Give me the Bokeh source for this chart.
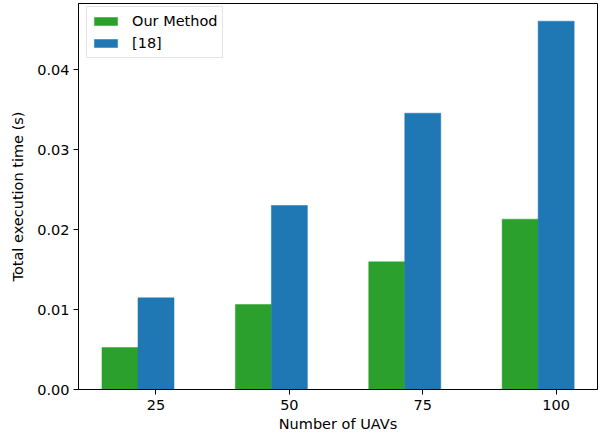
from bokeh.plotting import figure
from bokeh.models import FixedTicker, Range1d, Legend, LegendItem, PrintfTickFormatter
from bokeh.embed import file_html
from bokeh.resources import INLINE

categories = ["25", "50", "75", "100"]
our_method = [0.00525, 0.010625, 0.01596, 0.02129]
ref18 = [0.01146, 0.0230, 0.03454, 0.04604]
y_ticks = [0.0, 0.01, 0.02, 0.03, 0.04]

bar_w = 0.27
idx = list(range(len(categories)))
x_green = [i - bar_w for i in idx]

FONT = "DejaVu Sans"
FS = "14.5px"

p = figure(width=601, height=436, output_backend="svg", toolbar_location=None,
           x_range=Range1d(-0.581, 3.310), y_range=Range1d(0, 0.04825),
           min_border_left=78, min_border_right=4, min_border_top=3, min_border_bottom=47)

g = p.vbar(x=x_green, top=our_method, width=bar_w, bottom=0, fill_color="#2ca02c", line_color="#2ca02c", line_width=0.5)
b = p.vbar(x=idx, top=ref18, width=bar_w, bottom=0, fill_color="#1f77b4", line_color="#1f77b4", line_width=0.5)

p.xgrid.visible = False
p.ygrid.visible = False
p.outline_line_color = "black"
p.outline_line_width = 1
p.background_fill_color = "white"
p.border_fill_color = "white"

p.xaxis.ticker = FixedTicker(ticks=idx)
p.xaxis.major_label_overrides = {i: c for i, c in zip(idx, categories)}
p.yaxis.ticker = FixedTicker(ticks=y_ticks)
p.yaxis.formatter = PrintfTickFormatter(format="%.2f")

for ax in (p.xaxis, p.yaxis):
    ax.minor_tick_line_color = None
    ax.major_tick_out = 5
    ax.major_tick_in = 0
    ax.major_tick_line_color = "black"
    ax.axis_line_color = "black"
    ax.major_label_text_font = FONT
    ax.major_label_text_font_size = FS
    ax.major_label_text_color = "black"
    ax.axis_label_text_font = FONT
    ax.axis_label_text_font_size = FS
    ax.axis_label_text_font_style = "normal"
    ax.axis_label_text_color = "black"

p.xaxis.major_label_standoff = 5
p.yaxis.major_label_standoff = 4
p.xaxis.axis_label = "Number of UAVs"
p.yaxis.axis_label = "Total execution time (s)"
p.xaxis.axis_label_standoff = 3
p.yaxis.axis_label_standoff = 8

legend = Legend(items=[LegendItem(label="Our Method", renderers=[g]),
                       LegendItem(label="[18]", renderers=[b])],
                location="top_left", margin=0)
legend.location = (8, 331)
legend.glyph_width = 29
legend.glyph_height = 10
legend.label_height = 20
legend.label_standoff = 12
legend.spacing = 2
legend.padding = 4
legend.label_text_font = FONT
legend.label_text_font_size = FS
legend.label_text_color = "black"
legend.border_line_color = "#cccccc"
legend.border_line_width = 1
legend.background_fill_alpha = 0.8
p.add_layout(legend)

open("out.html", "w").write(file_html(p, INLINE))
